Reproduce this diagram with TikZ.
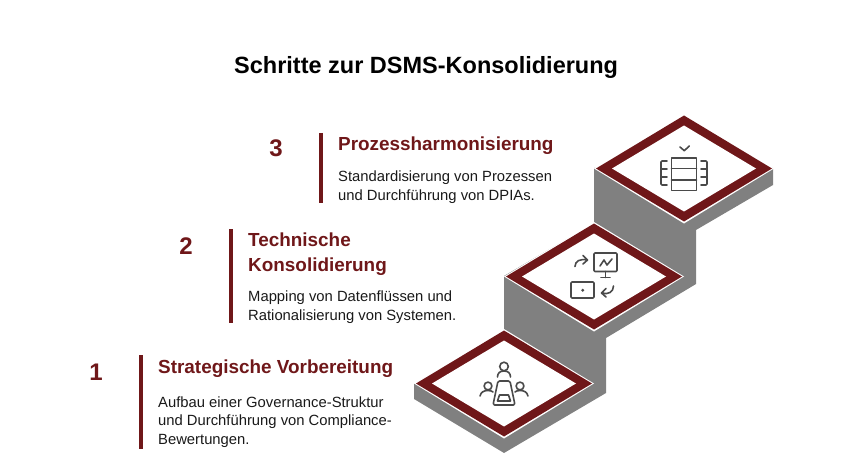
\documentclass[tikz,border=0pt]{standalone}
\usepackage{fontspec}
\setmainfont{Liberation Sans}
\definecolor{maroon}{HTML}{6F1719}
\definecolor{stepgray}{HTML}{808080}
\definecolor{icongray}{HTML}{4A4A4A}
\tikzset{
  x=1pt,y=-1pt,
  ttl/.style={anchor=base west,inner sep=0,font=\bfseries\fontsize{23.5}{24}\selectfont,text=black},
  numlab/.style={anchor=base,inner sep=0,font=\bfseries\fontsize{24}{24}\selectfont,text=maroon},
  head/.style={anchor=base west,inner sep=0,font=\bfseries\fontsize{18.9}{24}\selectfont,text=maroon},
  body/.style={anchor=base west,inner sep=0,font=\fontsize{14.8}{19}\selectfont,text=black!90},
  bar/.style={draw=maroon,line width=3.3pt},
  ico/.style={draw=icongray,line width=1.6pt,line cap=round,line join=round},
}
\begin{document}
\begin{tikzpicture}
\useasboundingbox (0,0) rectangle (852,468);
% step solids
\fill[stepgray] (594,168)--(773,168)--(773,185)--(696,230)--(696,284)--(606,338)--(606,393)--(504,453)--(414,399)--(414,384)--(504,331)--(504,276)--(594,223)--cycle;
% diamonds
\foreach \cx/\cy in {684/168.5,594/276.5,504/383.5}{
  \fill[white] (\cx-90,\cy)--(\cx,\cy-54.5)--(\cx+90,\cy)--(\cx,\cy+55)--cycle;
  \fill[maroon] (\cx-88,\cy)--(\cx,\cy-53)--(\cx+88,\cy)--(\cx,\cy+53)--cycle;
  \fill[white] (\cx-72,\cy)--(\cx,\cy-43)--(\cx+72,\cy)--(\cx,\cy+43)--cycle;
}
% icon 3
\draw[ico] (680,147)--(684.3,150.7)--(689.3,146);
\draw[ico] (671.5,158)rectangle(696.5,190.5);
\draw[ico] (671.5,168.5)--(696.5,168.5) (671.5,180)--(696.5,180);
\draw[ico] (667,161)--(662,161)--(661,162)--(661,184)--(662,185)--(667,185) (661,169)--(667,169) (661,177)--(667,177);
\draw[ico] (701,161)--(706,161)--(707,162)--(707,184)--(706,185)--(701,185) (707,169)--(701,169) (707,177)--(701,177);
% icon 2
\draw[ico,rounded corners=1pt] (594,253)rectangle(617,271.5);
\draw[ico] (605.5,271.5)--(605.5,277.5) (601,277.5)--(610,277.5);
\draw[ico] (600,266)--(604,260)--(607,265)--(612,259);
\draw[ico] (575,266.5)..controls(575,261)and(580,258.5)..(587.5,260) (583,255.5)--(587.5,260)--(583,264);
\draw[ico,rounded corners=1pt] (571,282)rectangle(594,298);
\fill[icongray] (582.7,290.3) circle (1.6);
\draw[ico] (613.5,286)..controls(613.5,292)and(608,295)..(602,293) (606,288.5)--(601.5,293)--(606,297);
% icon 1
\draw[ico] (504,366.5) circle (4.3);
\draw[ico] (497.5,377)..controls(497.5,373)and(500,371)..(504,371)..controls(508,371)and(510.5,373)..(510.5,377);
\draw[ico,rounded corners=1.5pt] (498,381)--(510,381)--(515,405)--(493,405)--cycle;
\draw[ico] (499.5,395)--(508.5,395)--(510.5,401)--(497.5,401)--cycle;
\draw[ico] (488,386) circle (3.9);
\draw[ico] (480,396)..controls(481,392)and(484,390.5)..(488,390.5)..controls(490,390.5)and(492,391)..(493,392);
\draw[ico] (520,386) circle (3.9);
\draw[ico] (528,396)..controls(527,392)and(524,390.5)..(520,390.5)..controls(518,390.5)and(516,391)..(515,392);
% title
\node[ttl] (title) at (234,73.5) {Schritte zur DSMS-Konsolidierung};
% step 3
\node[numlab] (n3) at (276,157) {3};
\draw[bar] (321,133)--(321,203);
\node[head] (h3) at (338,151) {Prozessharmonisierung};
\node[body] (b3a) at (338,181.5) {Standardisierung von Prozessen};
\node[body] (b3b) at (338,200.5) {und Durchführung von DPIAs.};
% step 2
\node[numlab] (n2) at (186,254) {2};
\draw[bar] (231,229)--(231,323);
\node[head] (h2a) at (248,247) {Technische};
\node[head] (h2b) at (248,271) {Konsolidierung};
\node[body] (b2a) at (248,301.5) {Mapping von Datenflüssen und};
\node[body] (b2b) at (248,320.5) {Rationalisierung von Systemen.};
% step 1
\node[numlab] (n1) at (96,380) {1};
\draw[bar] (141,355)--(141,449);
\node[head] (h1) at (158,373) {Strategische Vorbereitung};
\node[body] (b1a) at (158,407) {Aufbau einer Governance-Struktur};
\node[body] (b1b) at (158,425.5) {und Durchführung von Compliance-};
\node[body] (b1c) at (158,444) {Bewertungen.};
\end{tikzpicture}
\end{document}
